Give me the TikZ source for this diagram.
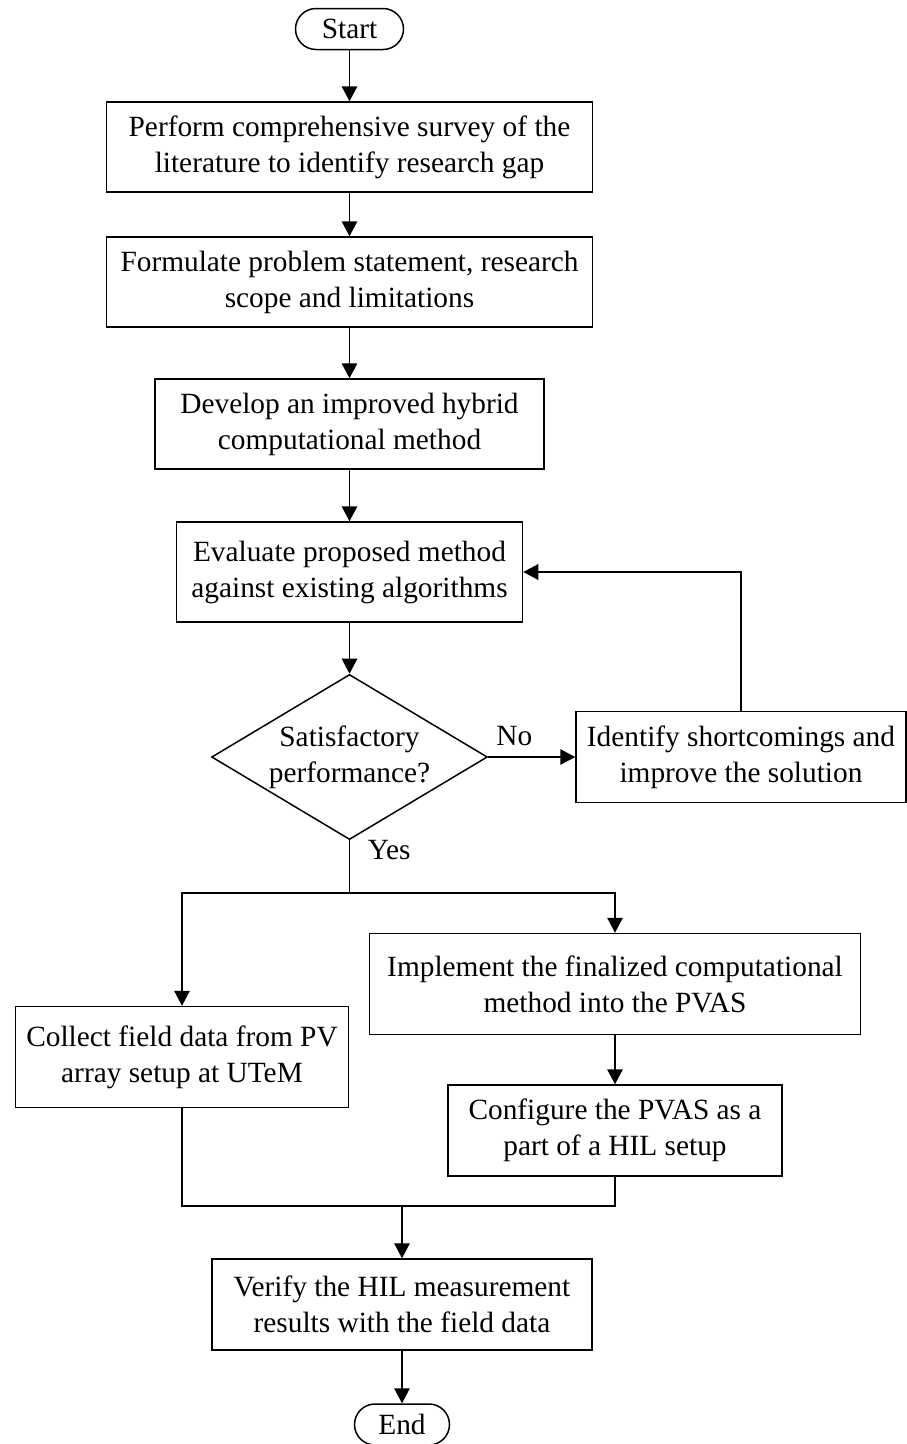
\documentclass[tikz,border=0pt]{standalone}
\usepackage{fontspec}
\setmainfont{Liberation Serif}
\usetikzlibrary{arrows.meta, shapes.geometric}
\newcommand{\flowfont}{\fontsize{16.7}{20.5}\selectfont}
\tikzset{
  %% process boxes
  procbox/.style={rectangle, draw, line width=0.85pt, align=center,
                  font=\flowfont, inner sep=2pt, minimum height=1.8cm},
  %% start / end
  terminal/.style={rectangle, rounded corners=0.41cm, draw, line width=0.85pt,
                   font=\flowfont, inner sep=2pt, minimum height=0.82cm},
  %% decision
  decision/.style={diamond, draw, line width=0.85pt, align=center, font=\flowfont,
                   aspect=1.67, inner sep=1pt, minimum width=5.46cm,
                   minimum height=3.26cm},
  %% branch labels
  lbl/.style={font=\flowfont, inner sep=0pt},
  %% connectors
  flowline/.style={line width=0.85pt},
  flowarrow/.style={flowline, -{Triangle[length=0.3cm, width=0.31cm]}},
}
\begin{document}
\begin{tikzpicture}
\useasboundingbox (0,0) rectangle (18.14,-28.88);

%% ============================================================
%%  COLUMN POSITIONS
%% ============================================================
\def\xM{6.99}
\def\xL{3.64}
\def\xR{12.30}
\def\xV{8.04}
\def\xI{14.82}

%% ----- main column -----
\node[terminal, minimum width=2.16cm] (start) at (\xM,-0.58) {Start};
\node[procbox, minimum width=9.72cm] (survey) at (\xM,-2.94)
  {Perform comprehensive survey of the\\literature to identify research gap};
\node[procbox, minimum width=9.72cm] (problem) at (\xM,-5.64)
  {Formulate problem statement, research\\scope and limitations};
\node[procbox, minimum width=7.78cm] (develop) at (\xM,-8.48)
  {Develop an improved hybrid\\computational method};
\node[procbox, minimum width=6.92cm, minimum height=2.0cm] (evaluate) at (\xM,-11.44)
  {Evaluate proposed method\\against existing algorithms};
\node[decision] (check) at (\xM,-15.14) {Satisfactory\\performance?};

%% ----- feedback box -----
\node[procbox, minimum width=6.60cm, minimum height=1.82cm] (improve) at (\xI,-15.14)
  {Identify shortcomings and\\improve the solution};

%% ----- two branches -----
\node[procbox, minimum width=6.66cm, minimum height=2.02cm] (collect) at (\xL,-21.14)
  {Collect field data from PV\\array setup at UTeM};
\node[procbox, minimum width=9.82cm, minimum height=2.02cm] (implement) at (\xR,-19.68)
  {Implement the finalized computational\\method into the PVAS};
\node[procbox, minimum width=6.68cm, minimum height=1.82cm] (configure) at (\xR,-22.61)
  {Configure the PVAS as a\\part of a HIL setup};

%% ----- final steps -----
\node[procbox, minimum width=7.60cm, minimum height=1.82cm] (verify) at (\xV,-26.09)
  {Verify the HIL measurement\\results with the field data};
\node[terminal, minimum width=1.90cm] (end) at (\xV,-28.49) {End};

%% ============================================================
%%  CONNECTORS
%% ============================================================
\draw[flowarrow] (start) -- (survey);
\draw[flowarrow] (survey) -- (problem);
\draw[flowarrow] (problem) -- (develop);
\draw[flowarrow] (develop) -- (evaluate);
\draw[flowarrow] (evaluate) -- (check);

%% no branch + loop back
\draw[flowarrow] (check.east) -- (improve.west)
  node[lbl, pos=0.3, above=6pt] (no) {No};
\draw[flowarrow] (improve.north) |- (evaluate.east);

%% yes branch, fork
\node[lbl, anchor=west] (yes) at ([xshift=0.36cm, yshift=-0.2cm]check.south) {Yes};
\coordinate (fork) at (\xM,-17.86);
\draw[flowline] (check.south) -- (fork);
\draw[flowarrow] (fork) -| (collect.north);
\draw[flowarrow] (fork) -| (implement.north);
\draw[flowarrow] (implement) -- (configure);

%% join
\coordinate (join) at (\xV,-24.12);
\draw[flowline] (collect.south) |- (join);
\draw[flowline] (configure.south) |- (join);
\draw[flowarrow] (join) -- (verify.north);
\draw[flowarrow] (verify) -- (end);

\end{tikzpicture}
\end{document}
